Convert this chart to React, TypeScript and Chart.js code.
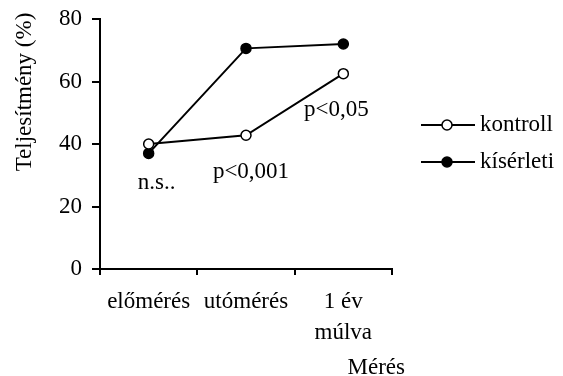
import React, { useEffect, useRef } from "react";
import { Chart, registerables } from "chart.js";
Chart.register(...registerables);

const categories: string[][] = [["előmérés"], ["utómérés"], ["1 év", "múlva"]];
const kontroll = [40, 42.8, 62.5];
const kiserleti = [37, 70.6, 72];
const seriesNames = ["kontroll", "kísérleti"];
const annotationTexts = ["n.s..", "p<0,001", "p<0,05"];
const annotationCategory = [0, 1, 2];
const annotationValues = [27.5, 31, 51];
const yTitle = "Teljesítmény (%)";
const xTitle = "Mérés";

const FONT = "Liberation Serif";
const FS = 23;

const extrasPlugin = {
  id: "extras",
  afterDraw(chart: any) {
    const ctx = chart.ctx;
    const xs = chart.scales.x;
    const ys = chart.scales.y;
    const area = chart.chartArea;
    ctx.save();
    ctx.fillStyle = "#000";
    ctx.font = `${FS}px "${FONT}"`;
    ctx.textBaseline = "middle";
    ctx.textAlign = "center";
    const dx = [8, 5, -7];
    annotationTexts.forEach((t, i) => {
      const x = xs.getPixelForValue(annotationCategory[i]) + dx[i];
      const y = ys.getPixelForValue(annotationValues[i]);
      ctx.fillText(t, x, y);
    });
    // x title
    ctx.textAlign = "right";
    ctx.fillText(xTitle, area.right + 13, chart.height - 8);
    // y title
    ctx.save();
    ctx.translate(25, area.top + 73);
    ctx.rotate(-Math.PI / 2);
    ctx.textAlign = "center";
    ctx.fillText(yTitle, 0, 0);
    ctx.restore();
    // legend
    const rows = [area.top + 106, area.top + 143];
    const fills = ["#fff", "#000"];
    rows.forEach((y, i) => {
      ctx.strokeStyle = "#000";
      ctx.lineWidth = 2;
      ctx.beginPath();
      ctx.moveTo(area.right + 29, y);
      ctx.lineTo(area.right + 83, y);
      ctx.stroke();
      ctx.beginPath();
      ctx.arc(area.right + 55, y, 5, 0, Math.PI * 2);
      ctx.fillStyle = fills[i];
      ctx.fill();
      ctx.lineWidth = 1.5;
      ctx.stroke();
      ctx.fillStyle = "#000";
      ctx.textAlign = "left";
      ctx.fillText(seriesNames[i], area.right + 88, y);
    });
    ctx.restore();
  },
};

export default function App() {
  const ref = useRef<HTMLCanvasElement>(null);
  useEffect(() => {
    const chart = new Chart(ref.current!, {
      type: "line",
      data: {
        labels: categories as any,
        datasets: [
          {
            label: seriesNames[0],
            data: kontroll,
            borderColor: "#000",
            borderWidth: 2,
            pointRadius: 5,
            pointBorderWidth: 1.5,
            pointBackgroundColor: "#fff",
            pointBorderColor: "#000",
          },
          {
            label: seriesNames[1],
            data: kiserleti,
            borderColor: "#000",
            borderWidth: 2,
            pointRadius: 5,
            pointBorderWidth: 1.5,
            pointBackgroundColor: "#000",
            pointBorderColor: "#000",
          },
        ],
      },
      options: {
        animation: false,
        responsive: true,
        maintainAspectRatio: false,
        layout: { padding: { top: 19, right: 171, bottom: 0, left: 0 } },
        plugins: { legend: { display: false }, tooltip: { enabled: false } },
        scales: {
          x: {
            offset: true,
            grid: {
              offset: true,
              drawOnChartArea: false,
              drawTicks: true,
              tickLength: 6,
              color: "#000",
              lineWidth: 2,
            },
            border: { color: "#000", width: 2 },
            ticks: {
              color: "#000",
              padding: 11,
              maxRotation: 0,
              autoSkip: false,
              font: { family: FONT, size: FS, lineHeight: 1.35 },
            },
            afterFit: (s: any) => {
              s.height = 107;
              s.paddingLeft = 0;
              s.paddingRight = 0;
            },
          },
          y: {
            min: 0,
            max: 80,
            grid: {
              drawOnChartArea: false,
              drawTicks: true,
              tickLength: 8,
              color: "#000",
              lineWidth: 2,
            },
            border: { color: "#000", width: 2 },
            ticks: {
              stepSize: 20,
              color: "#000",
              padding: 10,
              font: { family: FONT, size: FS },
            },
            afterFit: (s: any) => {
              s.width = 100;
              s.paddingTop = 0;
              s.paddingBottom = 0;
            },
          },
        },
      },
      plugins: [extrasPlugin],
    });
    return () => chart.destroy();
  }, []);
  return (
    <div style={{ position: "fixed", left: 0, top: 0, width: 563, height: 376, background: "#fff" }}>
      <canvas ref={ref} />
    </div>
  );
}
